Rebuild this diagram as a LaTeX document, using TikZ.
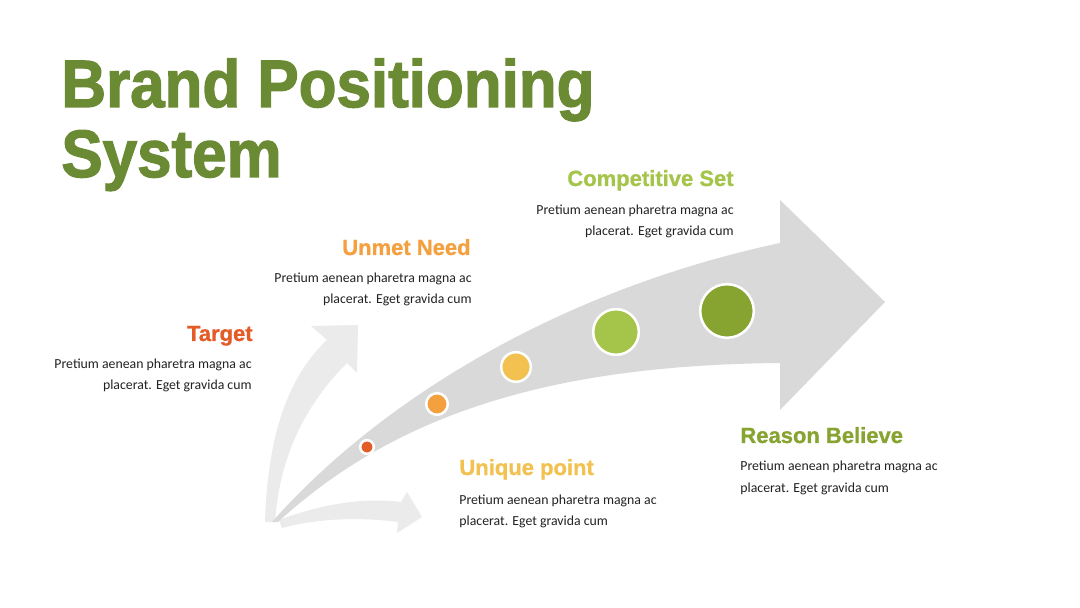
\documentclass[tikz,border=0pt]{standalone}
\usepackage{fontspec}
\setmainfont{Carlito}
\newfontfamily\headfont{Liberation Sans}[BoldFeatures={FakeBold=0.8}]
\newfontfamily\titlefont{Liberation Sans}[BoldFeatures={FakeBold=2}]
\usepackage{graphicx}
\usetikzlibrary{positioning}
\definecolor{titlegreen}{HTML}{6A8A33}
\definecolor{targetred}{HTML}{E35B26}
\definecolor{needorange}{HTML}{F4A03F}
\definecolor{uniqueyellow}{HTML}{F2C14F}
\definecolor{setgreen}{HTML}{A5C44A}
\definecolor{reasongreen}{HTML}{87A330}
\definecolor{mainarrow}{HTML}{D9D9D9}
\definecolor{sidearrow}{HTML}{EBEBEB}
\definecolor{bodytext}{HTML}{222222}

\begin{document}
\begin{tikzpicture}[x=0.5pt,y=-0.5pt,
  heading/.style={font=\headfont\bfseries\fontsize{11}{13}\selectfont, inner sep=0pt},
  body/.style={font=\fontsize{6.9}{10.5}\selectfont, text=bodytext, inner sep=0pt},
  dot/.style={circle, draw=white, line width=1.25pt, inner sep=0pt}]
  \useasboundingbox[fill=white] (0,0) rectangle (1080,608);
  % title
  \node[anchor=base west, align=left, text=titlegreen, inner sep=0pt,
    font=\titlefont\bfseries\fontsize{33.5}{35}\selectfont] (title) at (61,177)
    {\scalebox{0.924}[1]{Brand Positioning}\\\scalebox{0.924}[1]{System}};
  % side arrows
  \fill[sidearrow] (265,522) .. controls (268,430) and (290,375) .. (327,340)
    -- (311,326) -- (358,325) -- (357,373) -- (347,363)
    .. controls (310,400) and (280,450) .. (275,522) -- cycle;
  \fill[sidearrow] (279,520) .. controls (320,505) and (360,497) .. (401,502)
    -- (407,492) -- (422,517) -- (397,533) -- (398,522)
    .. controls (360,517) and (320,518) .. (282,528) -- cycle;
  % main arrow
  \fill[mainarrow] (272,522) .. controls (380,400) and (560,290) .. (780,243)
    -- (780,200) -- (885,302) -- (780,410) -- (780,363)
    .. controls (560,365) and (400,410) .. (278,522) -- cycle;
  % dots
  \node[dot, fill=targetred, minimum size=6.8pt] (d1) at (367,447) {};
  \node[dot, fill=needorange, minimum size=10.8pt] (d2) at (437,404) {};
  \node[dot, fill=uniqueyellow, minimum size=14.8pt] (d3) at (516,367) {};
  \node[dot, fill=setgreen, minimum size=22.8pt] (d4) at (616,332) {};
  \node[dot, fill=reasongreen, minimum size=26.8pt] (d5) at (727,311) {};
  % labels (body nodes sit on their last line)
  \node[heading, text=targetred, anchor=base east] (target) at (253,341) {Target};
  \node[body, anchor=base east, align=right] (targettxt) at (252,390)
    {Pretium aenean pharetra magna ac\\placerat. Eget gravida cum};
  \node[heading, text=needorange, anchor=base east] (need) at (471,255) {Unmet Need};
  \node[body, anchor=base east, align=right] (needtxt) at (472,304)
    {Pretium aenean pharetra magna ac\\placerat. Eget gravida cum};
  \node[heading, text=setgreen, anchor=base east] (set) at (734,186) {Competitive Set};
  \node[body, anchor=base east, align=right] (settxt) at (734,236)
    {Pretium aenean pharetra magna ac\\placerat. Eget gravida cum};
  \node[heading, text=uniqueyellow, anchor=base west] (unique) at (459,475) {Unique point};
  \node[body, anchor=base west, align=left] (uniquetxt) at (459,525)
    {Pretium aenean pharetra magna ac\\placerat. Eget gravida cum};
  \node[heading, text=reasongreen, anchor=base west] (reason) at (740,443) {Reason Believe};
  \node[body, anchor=base west, align=left] (reasontxt) at (740,492)
    {Pretium aenean pharetra magna ac\\placerat. Eget gravida cum};
\end{tikzpicture}
\end{document}
